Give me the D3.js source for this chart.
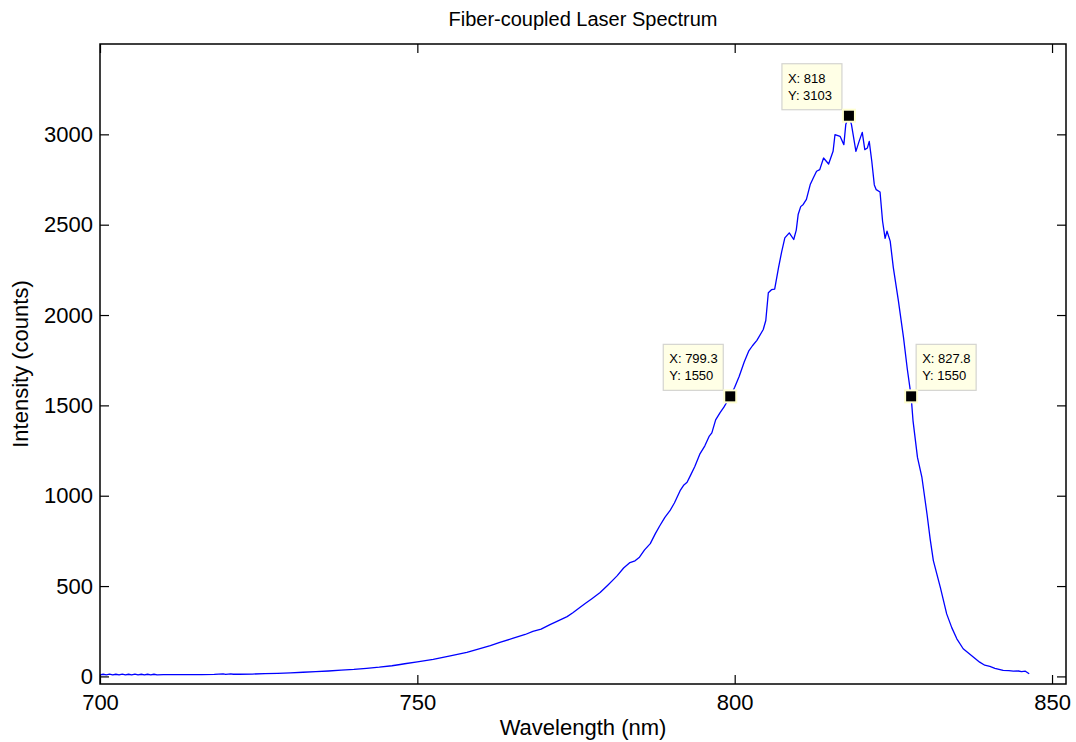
<!DOCTYPE html>
<html>
<head>
<meta charset="utf-8">
<script src="https://cdn.jsdelivr.net/npm/d3@7"></script>
<style>
  body { margin: 0; background: #fff; }
  svg { font-family: "Liberation Sans", Arial, sans-serif; }
  .tick text { font-size: 22px; fill: #000; }
  .tick line { stroke: #000; stroke-width: 1.2; }
</style>
</head>
<body>
<div id="chart"></div>
<script>
// spectrum (nm, counts)
const wavelength = [
  700, 700.5, 701, 701.5, 702, 702.5, 703, 703.5, 704, 704.5, 705, 705.5, 706, 706.5, 707, 707.5, 708, 708.5, 709,
  710, 712, 714, 716, 718, 719.4, 719.8, 720.6, 721, 722, 724, 726, 728, 730, 732, 734, 736, 738, 740, 742, 744, 746,
  747.3, 748, 750, 752.5, 755, 757.8, 760, 761.5, 763, 765, 767, 768.2, 769.5, 770.9, 772, 773.6, 774.5, 775.6, 776.5,
  777.5, 778.8, 780, 781, 781.5, 782.5, 783.5, 784.3, 785, 785.8, 786.7, 787.5, 788.2, 789, 789.8, 790.5, 791.4, 792,
  792.5, 793, 793.7, 794.5, 795.3, 796, 796.4, 797, 797.7, 798.3, 798.8, 799.3, 800, 800.7, 801.5, 802.2, 802.8, 803.5,
  804.5, 804.9, 805.3, 805.8, 806.3, 806.9, 807.4, 807.9, 808.6, 809.3, 809.7, 810, 810.4, 810.8, 811.3, 811.9, 812.4,
  812.9, 813.4, 814, 814.8, 815.5, 815.8, 816.6, 817.2, 817.5, 818, 818.4, 819.1, 819.6, 820.1, 820.5, 820.9, 821.2,
  821.6, 822, 822.3, 822.9, 823.3, 823.7, 824, 824.5, 825, 825.8, 826.6, 827.2, 827.8, 828.1, 828.8, 829.5, 830.3,
  830.8, 831.3, 832.4, 833.4, 834.2, 835, 836, 837.3, 838.6, 839.4, 840.2, 841, 842.3, 843.2, 843.9, 844.7, 845.2,
  845.8, 846.4
];
const intensity = [
  8, 12, 9, 13, 8, 12, 9, 13, 9, 12, 8, 13, 9, 12, 8, 12, 9, 12, 9,
  10, 10, 10, 10, 11, 14, 11, 14, 12, 12, 13, 15, 17, 20, 23, 26, 30, 35, 39, 45, 51, 59,
  66, 70, 80, 94, 112, 133, 155, 170, 188, 210, 232, 249, 262, 287, 305, 331, 352, 381, 405,
  430, 464, 505, 540, 558, 600, 630, 640, 660, 700, 735, 790, 834, 880, 917, 960, 1028, 1060,
  1075, 1110, 1160, 1230, 1276, 1330, 1348, 1420, 1460, 1490, 1520, 1550, 1600, 1660, 1740, 1800, 1830, 1860,
  1920, 1970, 2123, 2140, 2144, 2261, 2350, 2427, 2455, 2418, 2470, 2556, 2600, 2612, 2640, 2722, 2760,
  2796, 2805, 2869, 2836, 2906, 2998, 2989, 2943, 3054, 3103, 3054, 2906, 2961, 3011, 2915, 2924, 2961,
  2851, 2720, 2694, 2681, 2519, 2424, 2464, 2409, 2261, 2077, 1875, 1700, 1550, 1414, 1212, 1101, 899,
  760, 641, 493, 346, 270, 208, 153, 116, 79, 62, 55, 45, 33, 32, 29, 30, 27,
  29, 15
];
const xTicks = [700, 750, 800, 850];
const yTicks = [0, 500, 1000, 1500, 2000, 2500, 3000];
// data tips: x, y, side of the box
const tipX = [799.3, 818, 827.8];
const tipY = [1550, 3103, 1550];
const tipSide = ['left', 'left', 'right'];

const data = wavelength.map((w, i) => ({x: w, y: intensity[i]}));

const width = 1076, height = 742;
const margin = {top: 44, right: 10, bottom: 58, left: 100};

const svg = d3.select('#chart').append('svg')
  .attr('width', width)
  .attr('height', height);

const x = d3.scaleLinear()
  .domain([700, 852.2])
  .range([margin.left, width - margin.right]);
const y = d3.scaleLinear()
  .domain([-42, 3500])
  .range([height - margin.bottom, margin.top]);

// ticks inside the box on all four sides
svg.append('g')
  .attr('transform', `translate(0, ${height - margin.bottom})`)
  .call(d3.axisBottom(x).tickValues(xTicks).tickSize(-9).tickPadding(10).tickFormat(d3.format('d')))
  .call(g => g.select('.domain').remove());
svg.append('g')
  .attr('transform', `translate(0, ${margin.top})`)
  .call(d3.axisTop(x).tickValues(xTicks).tickSize(-9).tickFormat(''))
  .call(g => g.select('.domain').remove());
svg.append('g')
  .attr('transform', `translate(${margin.left}, 0)`)
  .call(d3.axisLeft(y).tickValues(yTicks).tickSize(-9).tickPadding(7).tickFormat(d3.format('d')))
  .call(g => g.select('.domain').remove());
svg.append('g')
  .attr('transform', `translate(${width - margin.right}, 0)`)
  .call(d3.axisRight(y).tickValues(yTicks).tickSize(-9).tickFormat(''))
  .call(g => g.select('.domain').remove());
svg.selectAll('.tick text').attr('font-family', null).attr('font-size', null);

const line = d3.line()
  .x(d => x(d.x))
  .y(d => y(d.y));
svg.append('path')
  .datum(data)
  .attr('fill', 'none')
  .attr('stroke', '#0000ff')
  .attr('stroke-width', 1.3)
  .attr('stroke-linejoin', 'round')
  .attr('d', line);

// axes box
svg.append('rect')
  .attr('x', margin.left)
  .attr('y', margin.top)
  .attr('width', width - margin.left - margin.right)
  .attr('height', height - margin.top - margin.bottom)
  .attr('fill', 'none')
  .attr('stroke', '#000')
  .attr('stroke-width', 1.5);

// data tips
const tips = svg.append('g');
tipX.forEach((tx, i) => {
  const px = x(tx), py = y(tipY[i]);
  const bw = 60, bh = 46;
  const bx = tipSide[i] === 'left' ? px - 7 - bw : px + 5;
  const by = py - 6 - bh;
  tips.append('rect')
    .attr('x', bx).attr('y', by)
    .attr('width', bw).attr('height', bh)
    .attr('fill', '#ffffe6')
    .attr('stroke', '#d4d4d0')
    .attr('stroke-width', 1.2);
  tips.append('text')
    .attr('x', bx + 6).attr('y', by + 19)
    .attr('font-size', 13)
    .text(`X: ${tx}`);
  tips.append('text')
    .attr('x', bx + 6).attr('y', by + 36)
    .attr('font-size', 13)
    .text(`Y: ${tipY[i]}`);
  tips.append('rect')
    .attr('x', px - 6).attr('y', py - 6)
    .attr('width', 12).attr('height', 12)
    .attr('fill', '#000')
    .attr('stroke', '#ffffd0')
    .attr('stroke-width', 2);
});

// labels
svg.append('text')
  .attr('x', (margin.left + width - margin.right) / 2)
  .attr('y', 26)
  .attr('text-anchor', 'middle')
  .attr('font-size', 20)
  .text('Fiber-coupled Laser Spectrum');
svg.append('text')
  .attr('x', (margin.left + width - margin.right) / 2)
  .attr('y', 735)
  .attr('text-anchor', 'middle')
  .attr('font-size', 22)
  .text('Wavelength (nm)');
svg.append('text')
  .attr('transform', `translate(28, ${(margin.top + height - margin.bottom) / 2}) rotate(-90)`)
  .attr('text-anchor', 'middle')
  .attr('font-size', 22)
  .text('Intensity (counts)');
</script>
</body>
</html>
